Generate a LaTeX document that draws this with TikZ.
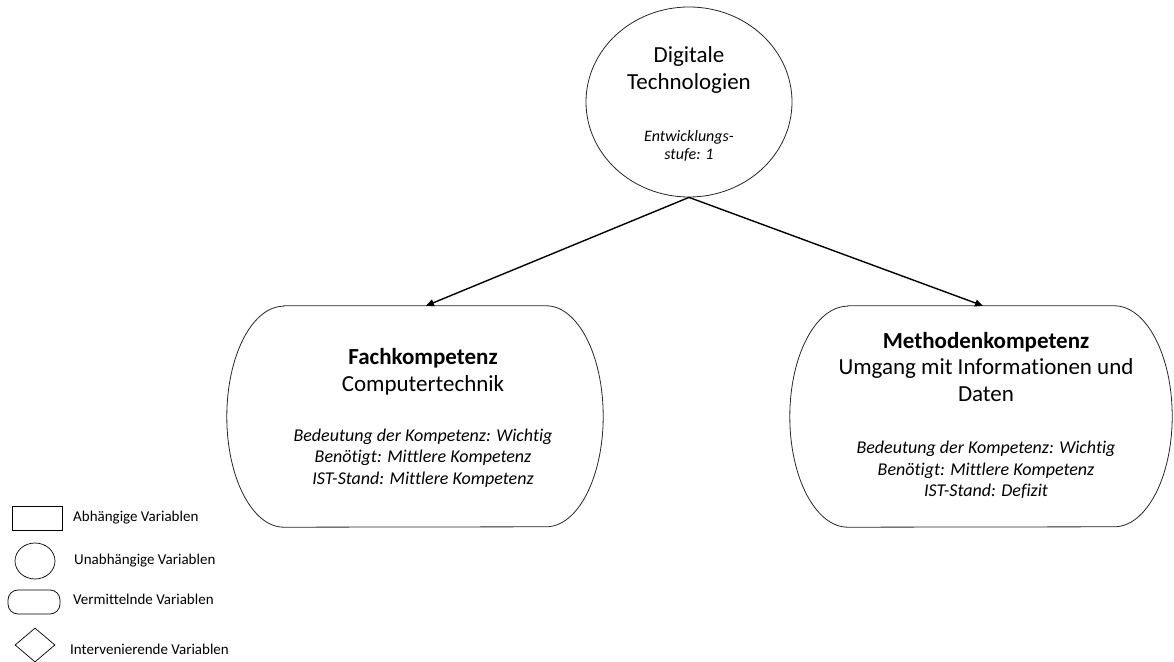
\documentclass[tikz,border=0pt]{standalone}
\usepackage{fontspec}
\setmainfont{Carlito}[Ligatures=NoCommon]
\usetikzlibrary{arrows.meta,positioning,shapes.geometric}

\tikzset{
  outline/.style={draw=black!85, line width=0.8pt},
  legendshape/.style={draw=black, line width=0.7pt, inner sep=0pt},
  legendtext/.style={anchor=west, inner sep=0pt, font=\fontsize{15}{18}\selectfont},
  head/.style={align=center, inner sep=0pt, font=\fontsize{23}{26.5}\selectfont},
  note/.style={align=center, inner sep=0pt, font=\itshape\fontsize{18}{21.5}\selectfont},
  link/.style={line width=1.4pt, -{Triangle[length=8pt,width=7pt]}}
}

% outline with flat top/bottom and elliptic ends
\newcommand\capsule[2]{%
  \draw[outline] ([xshift=#2]#1.north west) -- ([xshift=-#2]#1.north east)
    arc[start angle=90, end angle=-90, x radius=#2, y radius=110.5]
    -- ([xshift=#2]#1.south west)
    arc[start angle=270, end angle=90, x radius=#2, y radius=110.5] -- cycle;}

\begin{document}
\begin{tikzpicture}[x=1pt,y=1pt]
  \useasboundingbox (0,0) rectangle (1174,661);

  % independent variable
  \node[ellipse, outline, minimum width=206, minimum height=190] (tech) at (689,559) {};
  \node[head] (techhead) at (689,591) {Digitale\\Technologien};
  \node[note, font=\itshape\fontsize{16}{17.5}\selectfont] (technote) at (689,515) {Entwicklungs-\\stufe: 1};

  % mediating variables
  \node[minimum width=376, minimum height=221, inner sep=0pt] (fach) at (415,244.5) {};
  \node[minimum width=382, minimum height=221, inner sep=0pt] (meth) at (981,244.5) {};
  \capsule{fach}{57}
  \capsule{meth}{58}

  \node[head] (fachhead) at (423,289) {\bfseries Fachkompetenz\\Computertechnik};
  \node[note] (fachnote) at (423,203) {Bedeutung der Kompetenz: Wichtig\\Benötigt: Mittlere Kompetenz\\IST-Stand: Mittlere Kompetenz};
  \node[head] (methhead) at (986,294) {\bfseries Methodenkompetenz\\Umgang mit Informationen und\\Daten};
  \node[note] (methnote) at (986,191) {Bedeutung der Kompetenz: Wichtig\\Benötigt: Mittlere Kompetenz\\IST-Stand: Defizit};

  \draw[link] (tech.south) -- ([xshift=11]fach.north);
  \draw[link] (tech.south) -- ([xshift=2]meth.north);

  % legend
  \node[legendshape, rectangle, minimum width=50, minimum height=24] (depshape) at (37,143) {};
  \node[legendtext] (deptext) at (73,143) {Abhängige Variablen};
  \node[legendshape, ellipse, minimum width=40, minimum height=36] (indshape) at (35,100) {};
  \node[legendtext] (indtext) at (74,100) {Unabhängige Variablen};
  \node[legendshape, rectangle, rounded corners=10pt, minimum width=52, minimum height=24] (medshape) at (34,59) {};
  \node[legendtext] (medtext) at (73,62) {Vermittelnde Variablen};
  \node[legendshape, diamond, aspect=1.2, minimum width=40, minimum height=34] (intshape) at (35,16) {};
  \node[legendtext] (inttext) at (70,12) {Intervenierende Variablen};
\end{tikzpicture}
\end{document}
